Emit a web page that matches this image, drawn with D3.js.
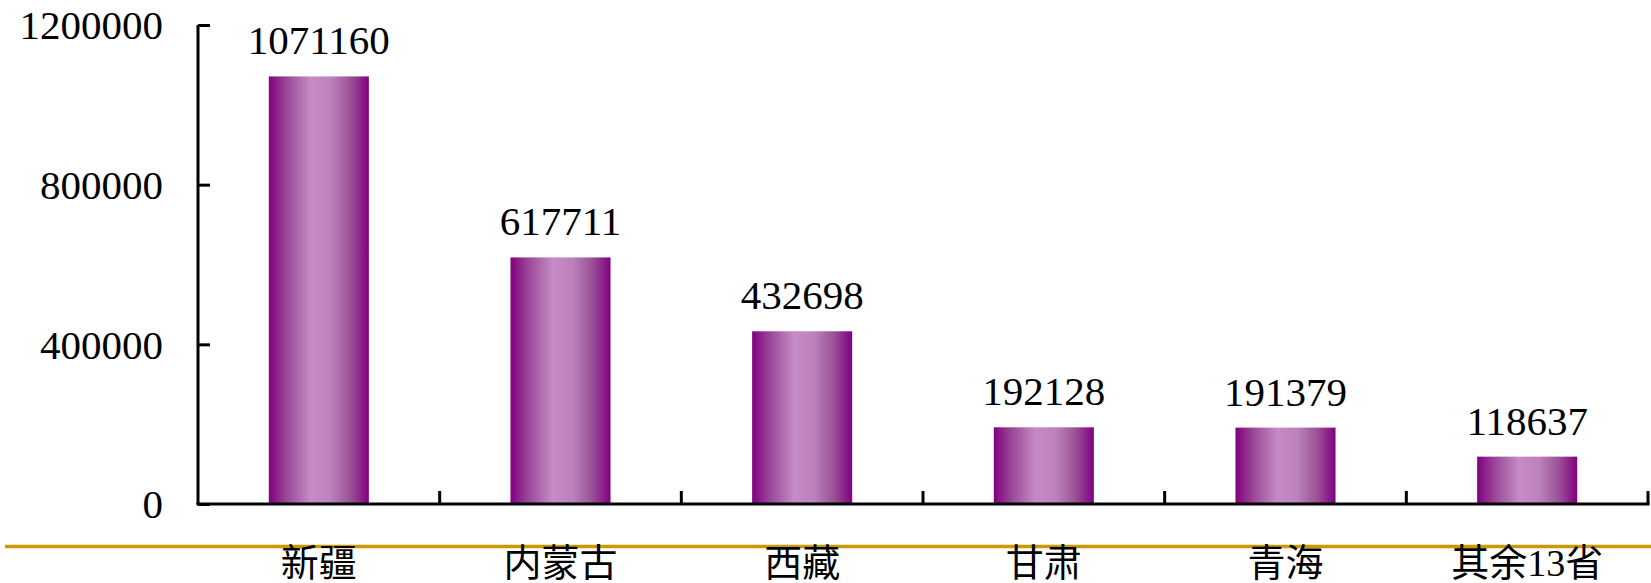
<!DOCTYPE html>
<html>
<head>
<meta charset="utf-8">
<script src="https://cdn.jsdelivr.net/npm/d3@7"></script>
<style>
  body { margin: 0; background: #fff; }
  text { fill: #000; }
</style>
</head>
<body>
<script>
var width = 1651, height = 583;
var x0 = 198, x1 = 1648, y0 = 504, y1 = 25;

var categories = ['新疆', '内蒙古', '西藏', '甘肃', '青海', '其余13省'];
var values = [1071160, 617711, 432698, 192128, 191379, 118637];
var yTicks = [0, 400000, 800000, 1200000];

var numFont = '"Liberation Serif", "DejaVu Serif", serif';
var cjkFont = '"Liberation Serif", "Noto Sans CJK SC", serif';

var svg = d3.select('body').append('svg').attr('width', width).attr('height', height);

// gradient for the cylinder look
var grad = svg.append('defs').append('linearGradient').attr('id', 'barGrad')
  .attr('x1', '0%').attr('x2', '100%').attr('y1', '0%').attr('y2', '0%');
[[0, '#800080'], [0.18, '#9a4898'], [0.42, '#c68bc6'], [0.62, '#bb82bb'], [0.82, '#9a5096'], [1, '#800080']]
  .forEach(function(s) { grad.append('stop').attr('offset', s[0]).attr('stop-color', s[1]); });

var xScale = d3.scaleBand().domain(categories).range([x0, x1]).paddingInner(0.586).paddingOuter(0.293);
var yScale = d3.scaleLinear().domain([0, 1200000]).range([y0, y1]);

// bars
svg.append('g').selectAll('rect').data(values).enter().append('rect')
  .attr('x', (d, i) => xScale(categories[i]))
  .attr('y', d => yScale(d))
  .attr('width', xScale.bandwidth())
  .attr('height', d => y0 - yScale(d))
  .attr('fill', 'url(#barGrad)');

// value labels
svg.append('g').selectAll('text').data(values).enter().append('text')
  .attr('x', (d, i) => xScale(categories[i]) + xScale.bandwidth() / 2)
  .attr('y', d => yScale(d) - 22)
  .attr('text-anchor', 'middle')
  .style('font-family', numFont)
  .style('font-size', '41px')
  .text(d => d);

// y axis
var yAxis = svg.append('g').attr('transform', 'translate(' + x0 + ',0)')
  .call(d3.axisRight(yScale).tickValues(yTicks).tickSize(12).tickFormat(''));
yAxis.select('.domain').attr('stroke-width', 3).attr('d', 'M0,' + y1 + 'V' + y0);
yAxis.selectAll('.tick line').attr('stroke-width', 3);

svg.append('g').selectAll('text').data(yTicks).enter().append('text')
  .attr('x', 163)
  .attr('y', d => yScale(d))
  .attr('dy', '0.35em')
  .attr('text-anchor', 'end')
  .style('font-family', numFont)
  .style('font-size', '41px')
  .text(d => d);

// x axis with ticks between categories
var sepScale = d3.scaleLinear().domain([0, categories.length]).range([x0, x1]);
svg.append('line').attr('x1', x0 - 1.5).attr('x2', x1 + 1.5).attr('y1', y0).attr('y2', y0)
  .attr('stroke', '#000').attr('stroke-width', 3);
svg.append('g').selectAll('line').data(d3.range(1, categories.length + 1)).enter().append('line')
  .attr('x1', d => sepScale(d)).attr('x2', d => sepScale(d))
  .attr('y1', y0).attr('y2', y0 - 13)
  .attr('stroke', '#000').attr('stroke-width', 3);

// gold rule
svg.append('line').attr('x1', 5).attr('x2', width).attr('y1', 546.5).attr('y2', 546.5)
  .attr('stroke', '#cc9900').attr('stroke-width', 3.5);

// category labels
svg.append('g').selectAll('text').data(categories).enter().append('text')
  .attr('x', d => xScale(d) + xScale.bandwidth() / 2)
  .attr('y', 576)
  .attr('text-anchor', 'middle')
  .style('font-family', cjkFont)
  .style('font-size', '38px')
  .text(d => d);
</script>
</body>
</html>
